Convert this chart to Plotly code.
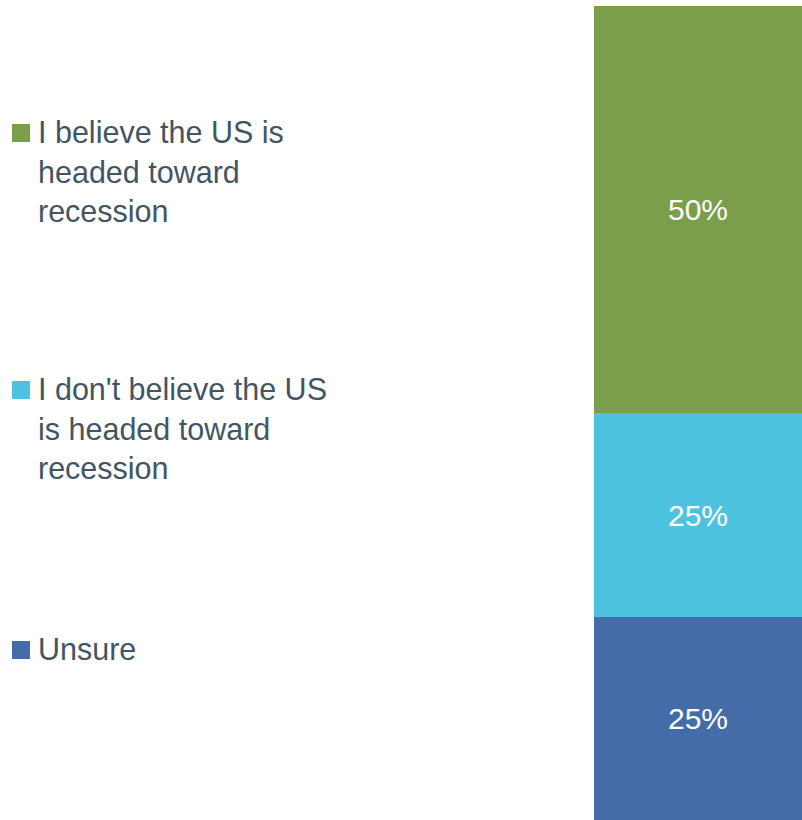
import plotly.graph_objects as go

categories = ["Unsure", "I don't believe the US<br>is headed toward<br>recession", "I believe the US is<br>headed toward<br>recession"]
values = [25, 25, 50]
colors = ["#436CA8", "#4DC3DF", "#7A9E4A"]
legend_order = [2, 1, 0]
legend_line_y = [133, 390, 650]

W, H = 802, 820
FONT = "Liberation Sans, Arial, sans-serif"
TEXT_COLOR = "#435563"

fig = go.Figure()
for name, v, c in zip(categories, values, colors):
    fig.add_trace(go.Bar(
        x=["All"], y=[v], name=name, marker=dict(color=c, line=dict(width=0)),
        text=[f"{v}%"], textposition="inside", insidetextanchor="middle",
        textangle=0, textfont=dict(family=FONT, size=30, color="white"),
        width=1, showlegend=False, hoverinfo="skip",
    ))

annotations = []
shapes = []
for idx, ly in zip(legend_order, legend_line_y):
    annotations.append(dict(
        x=37 / W, y=1 - (ly - 19.5) / H, xref="paper", yref="paper",
        xanchor="left", yanchor="top", align="left", showarrow=False,
        text=categories[idx], borderpad=0,
        font=dict(family=FONT, size=30.5, color=TEXT_COLOR),
    ))
    shapes.append(dict(
        type="rect", xref="paper", yref="paper",
        x0=12 / W, x1=30 / W, y0=1 - (ly + 9) / H, y1=1 - (ly - 9) / H,
        fillcolor=colors[idx], line=dict(width=0),
    ))

fig.update_layout(
    width=W, height=H, margin=dict(l=0, r=0, t=0, b=0),
    barmode="stack", bargap=0,
    plot_bgcolor="white", paper_bgcolor="white",
    xaxis=dict(domain=[594 / W, 1], range=[-0.5, 0.5], visible=False),
    yaxis=dict(range=[0, 100 * H / (H - 6)], visible=False),
    annotations=annotations, shapes=shapes,
    uniformtext=dict(mode="show", minsize=30),
)

fig.write_html(
    "out.html",
    config={"displayModeBar": False},
    post_script="document.body.style.margin='0';document.body.style.overflow='hidden';",
)
